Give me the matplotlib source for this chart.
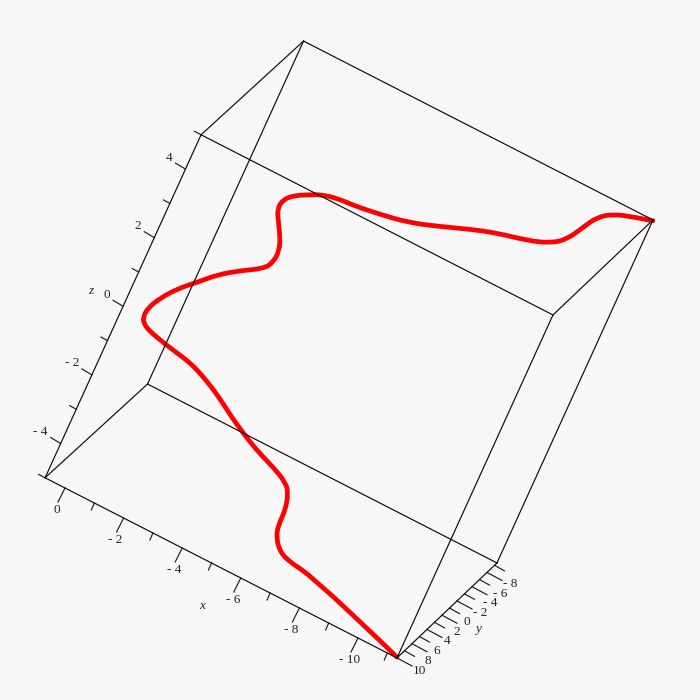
import matplotlib
matplotlib.use("Agg")
import matplotlib.pyplot as plt
import numpy as np
from matplotlib.patches import PathPatch
from matplotlib.path import Path

# curve values
curve_x = [-11.32, -10.48, -9.65, -9.07, -8.53, -8.01, -7.51, -6.95, -6.52, -6.20, -6.09, -6.07, -5.91, -5.67, -5.12,
           -4.48, -3.79, -3.17, -2.53, -1.88, -1.31, -0.80, -0.33, 0.34, 0.58, 0.70, 0.70, 0.49, 0.16,
           -0.23, -0.70, -1.26, -1.81, -1.99, -1.99, -1.83, -1.54, -1.34, -1.37, -1.61, -1.97, -2.31, -2.80,
           -3.31, -4.12, -4.93, -5.77, -6.67, -7.42, -8.30, -8.94, -9.33, -9.59, -9.83, -10.21, -10.77, -11.34]
curve_y = [10.00, 9.46, 8.92, 8.57, 8.23, 7.91, 7.61, 7.27, 7.00, 6.71, 6.47, 6.16, 5.83, 5.61, 5.25,
           4.84, 4.38, 3.96, 3.51, 3.07, 2.71, 2.39, 2.11, 1.69, 1.53, 1.41, 1.20, 0.89, 0.52,
           0.16, -0.29, -0.73, -1.15, -1.38, -1.63, -1.88, -2.20, -2.43, -2.64, -2.86, -3.13, -3.38, -3.71,
           -4.04, -4.58, -5.12, -5.70, -6.33, -6.85, -7.43, -7.88, -8.21, -8.59, -8.92, -9.23, -9.61, -10.00]
curve_z = [-4.98, -4.86, -4.75, -4.67, -4.60, -4.55, -4.49, -4.50, -4.43, -4.17, -3.91, -3.52, -3.14, -2.95, -2.81,
           -2.70, -2.52, -2.32, -2.08, -1.90, -1.79, -1.77, -1.75, -1.70, -1.62, -1.51, -1.25, -0.91, -0.55,
           -0.26, 0.12, 0.42, 0.66, 0.88, 1.20, 1.47, 1.79, 2.03, 2.28, 2.47, 2.61, 2.73, 2.78,
           2.75, 2.77, 2.82, 2.99, 3.21, 3.35, 3.44, 3.58, 3.82, 4.23, 4.58, 4.79, 4.90, 4.98]

x_range = (-11.33, 0.68)
y_range = (-10, 10)
z_range = (-5, 5)
x_ticks = list(range(-11, 1))
y_ticks = [10, 8.5, 7, 5.5, 4, 2.5, 1, -0.5, -2, -3.5, -5, -6.5, -8, -9.5]
y_labels = [10, 8, 6, 4, 2, 0, -2, -4, -6, -8]
z_ticks = list(range(-5, 6))


def project(x, y, z):
    # fixed view of the box, returns pixel position
    x = np.asarray(x, float)
    y = np.asarray(y, float)
    z = np.asarray(z, float)
    x = (x + 11.33) * (1 + 0.00035 * (y - 10)) - 11.33
    return (193 - 29.3 * x - 5 * y + 15.6 * z,
            269 - 15 * x + 4.75 * y - 34.3 * z)


def smooth_path(px, py):
    # quadratic segments between midpoints, with the read points as controls
    pts = np.column_stack([px, py])
    verts = [pts[0], (pts[0] + pts[1]) / 2]
    codes = [Path.MOVETO, Path.LINETO]
    for i in range(1, len(pts) - 1):
        end = (pts[i] + pts[i + 1]) / 2 if i < len(pts) - 2 else pts[-1]
        verts += [pts[i], end]
        codes += [Path.CURVE3, Path.CURVE3]
    return Path(verts, codes)


def tick_text(v):
    return f"- {-v}" if v < 0 else str(v)


plt.rcParams["font.family"] = ["Liberation Serif", "DejaVu Serif"]
bg = "#f7f7f7"
fig = plt.figure(figsize=(7, 7), dpi=100, facecolor=bg)
ax = fig.add_axes([0, 0, 1, 1])
ax.set_xlim(0, 700)
ax.set_ylim(700, 0)
ax.axis("off")

ax.add_patch(PathPatch(smooth_path(*project(curve_x, curve_y, curve_z)), fc="none", ec="#ff0000", lw=3.4,
                       capstyle="round", joinstyle="round", zorder=2))

# box edges
xa, xb = x_range
ya, yb = y_range
za, zb = z_range
edge = dict(color="#120808", lw=0.85, zorder=3)
for y in (ya, yb):
    for z in (za, zb):
        ax.plot(*project([xa, xb], [y, y], [z, z]), **edge)
for x in (xa, xb):
    for z in (za, zb):
        ax.plot(*project([x, x], [ya, yb], [z, z]), **edge)
for x in (xa, xb):
    for y in (ya, yb):
        ax.plot(*project([x, x], [y, y], [za, zb]), **edge)

tick_col = "#2a1a1a"
txt_col = "#2a2020"
fs = 9.5

for v in x_ticks:
    px, py = project(v, 10, -5)
    major = v % 2 == 0
    dx, dy = (-7, 14) if major else (-3, 7)
    ax.plot([px, px + dx], [py, py + dy], color=tick_col, lw=0.85)
    if major:
        ax.text(px - 8, py + 22, tick_text(v), ha="center", va="center", fontsize=fs, color=txt_col)

for i, v in enumerate(y_ticks):
    px, py = project(xa, v, -5)
    dx, dy = (15, 8) if i % 2 == 0 else (10, 5.5)
    ax.plot([px, px + dx], [py, py + dy], color=tick_col, lw=0.85)

for v in y_labels:
    px, py = project(xa, v, -5)
    shift = -1 if v == 10 else 1 if v == 8 else 0
    ax.text(px + 16.5 + shift, py + 12 + abs(shift), tick_text(v), ha="left", va="center", fontsize=fs, color=txt_col)

for v in z_ticks:
    px, py = project(xb, 10, v)
    major = v % 2 == 0
    dx, dy = (-10, -6) if major else (-6.5, -3.5)
    if v == 5 or v == -5:
        dx, dy = (-6.5, -3.5)
    ax.plot([px, px + dx], [py, py + dy], color=tick_col, lw=0.85)
    if major:
        ax.text(px - 13, py - 11.5, tick_text(v), ha="right", va="center", fontsize=fs, color=txt_col)

ax.text(202, 606, "x", ha="center", va="center", fontsize=fs, style="italic", color=txt_col)
ax.text(478, 629, "y", ha="center", va="center", fontsize=fs, style="italic", color=txt_col)
ax.text(91, 291, "z", ha="center", va="center", fontsize=fs, style="italic", color=txt_col)

fig.savefig("out.png", dpi=100, facecolor=bg)
